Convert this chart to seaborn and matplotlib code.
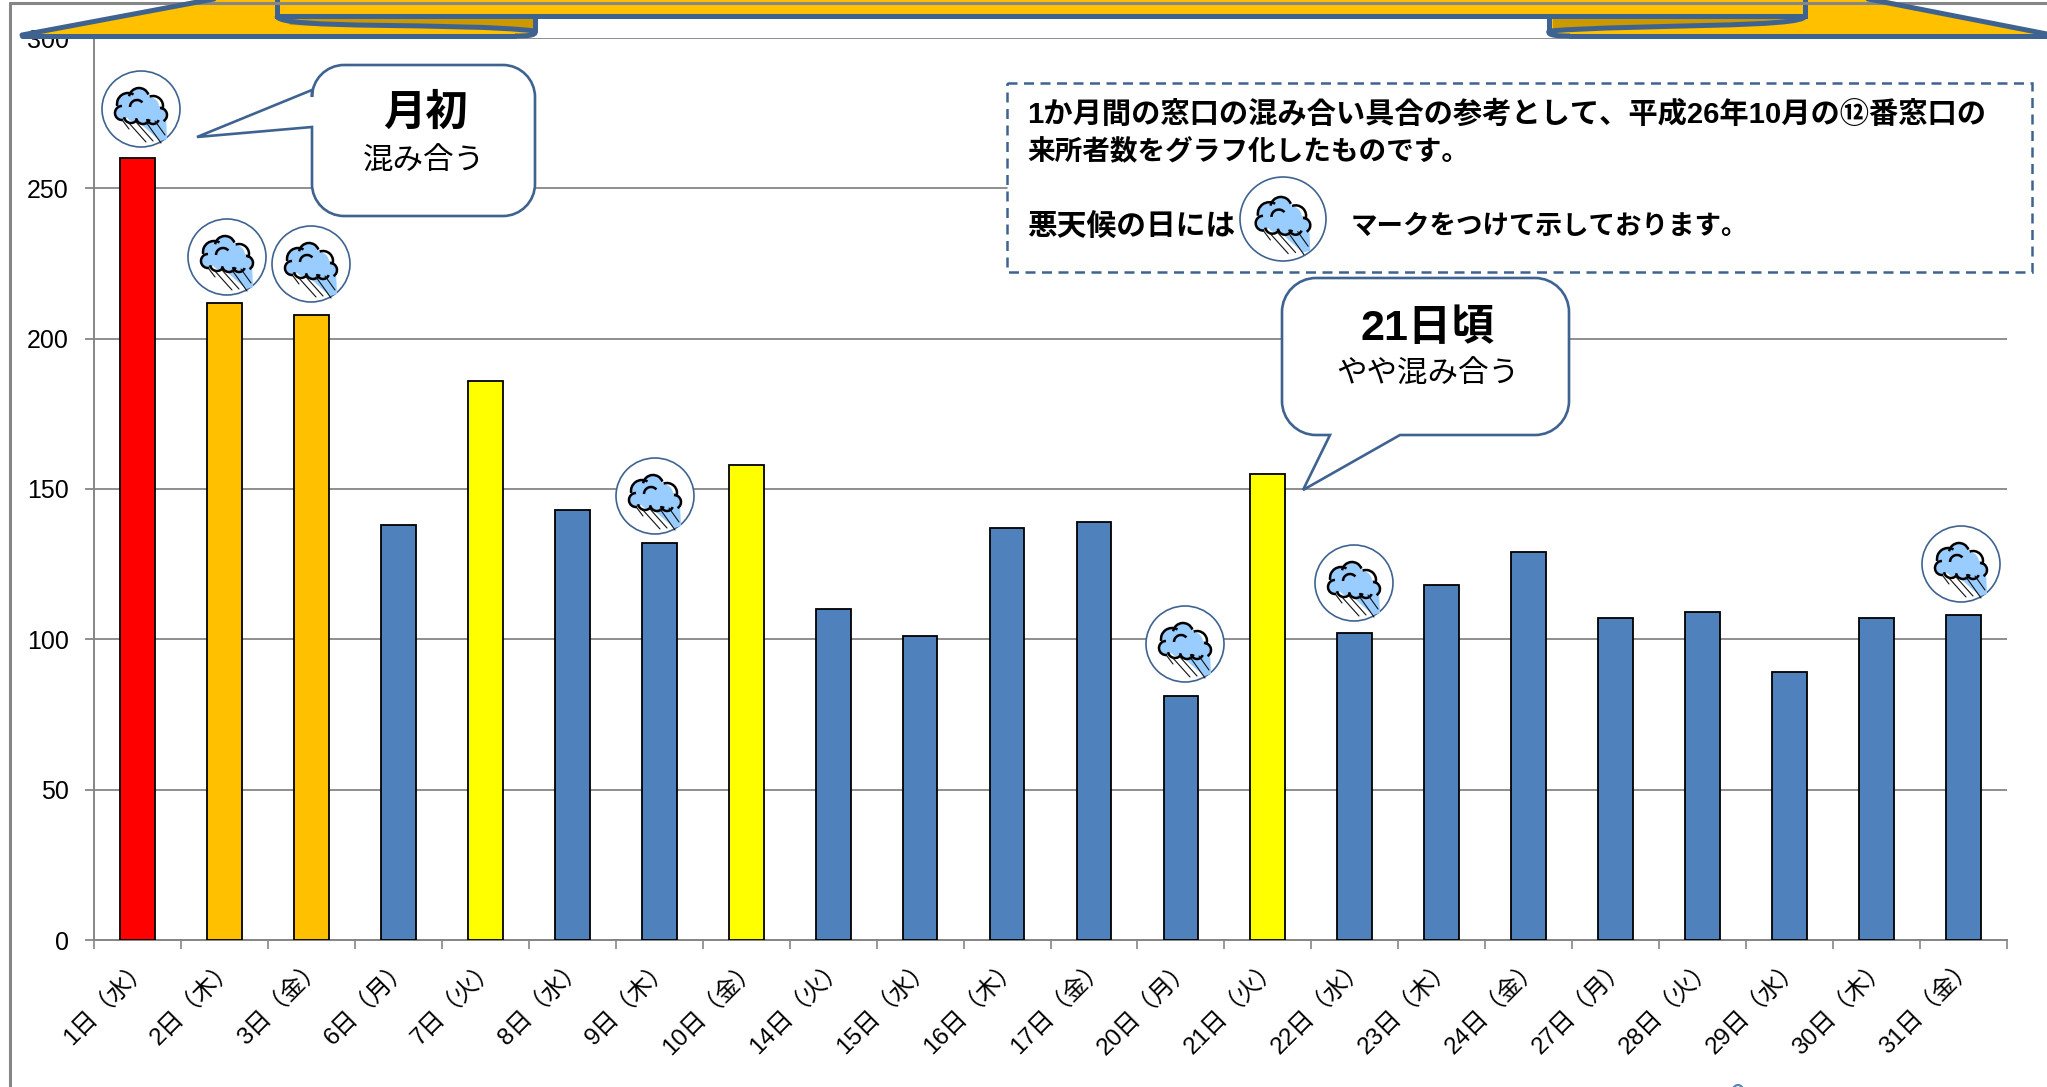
import matplotlib
matplotlib.use("Agg")
import matplotlib.pyplot as plt
import seaborn as sns
import pandas as pd
from matplotlib.patches import Ellipse, Circle, Arc, Polygon, PathPatch, Rectangle
from matplotlib.path import Path
from matplotlib.ticker import FixedLocator

days = ["1日（水）","2日（木）","3日（金）","6日（月）","7日（火）","8日（水）","9日（木）","10日（金）",
        "14日（火）","15日（水）","16日（木）","17日（金）","20日（月）","21日（火）","22日（水）","23日（木）",
        "24日（金）","27日（月）","28日（火）","29日（水）","30日（木）","31日（金）"]
visitors = [260,212,208,138,186,143,132,158,110,101,137,139,81,155,102,118,129,107,109,89,107,108]
levels = ["red","orange","orange","blue","yellow","blue","blue","yellow","blue","blue","blue","blue",
          "blue","yellow","blue","blue","blue","blue","blue","blue","blue","blue"]
palette = {"red":"#FF0000","orange":"#FFC000","blue":"#4F81BD","yellow":"#FFFF00"}
yticks = [0,50,100,150,200,250,300]

W, H = 2047, 1087
LATIN_JP = ["Liberation Sans", "Noto Sans CJK JP", "DejaVu Sans"]
sns.set_theme(style="white")
plt.rcParams["font.family"] = LATIN_JP
GRAY = "#868686"
BLUE = "#3F6391"

fig = plt.figure(figsize=(W/100, H/100), dpi=100, facecolor="white")
ax = fig.add_axes([94/W, 1-940/H, (2007-94)/W, (940-38)/H])
df = pd.DataFrame({"day":days,"visitors":visitors,"level":levels})
sns.barplot(data=df, x="day", y="visitors", hue="level", palette=palette, dodge=False, saturation=1,
            width=0.4, edgecolor="black", linewidth=1.3, legend=False, ax=ax, zorder=3)
ax.set_xlim(-0.5, len(days)-0.5)
ax.set_ylim(0, 300)
ax.set_yticks(yticks)
ax.set_xlabel(""); ax.set_ylabel("")
ax.grid(axis="y", color=GRAY, lw=1.3, zorder=0)
ax.set_axisbelow(True)
for s in ["top","right"]:
    ax.spines[s].set_visible(False)
for s in ["left","bottom"]:
    ax.spines[s].set_color(GRAY); ax.spines[s].set_linewidth(1.4)
ax.xaxis.set_minor_locator(FixedLocator([i-0.5 for i in range(len(days)+1)]))
ax.tick_params(axis="x", which="major", length=0, pad=11)
ax.tick_params(axis="x", which="minor", length=6.3, width=1.2, color=GRAY, bottom=True)
ax.tick_params(axis="y", length=6.3, width=1.3, color=GRAY, labelsize=18, pad=12, left=True)
ax.set_xticks(range(len(days)))
ax.set_xticklabels(days, rotation=45, ha="right", rotation_mode="anchor", fontsize=17.5, color="black")
for lab in ax.get_yticklabels():
    lab.set_color("black")

# overlay in figure pixels for the decorative shapes
ov = fig.add_axes([0,0,1,1], zorder=10)
ov.set_xlim(0, W); ov.set_ylim(H, 0); ov.axis("off"); ov.patch.set_alpha(0)

# outer frame
ov.plot([10,10],[1087,3], color=GRAY, lw=2.2)
ov.plot([10,2047],[3,3], color=GRAY, lw=2.2)

# ribbon banner
RW = 3.6
ov.add_patch(Polygon([(22,35),(214,-4),(535,-4),(535,36)], closed=True, fc="#FFC000", ec="none"))
ov.add_patch(Polygon([(2047,34),(1868,-4),(1549,-4),(1549,36)], closed=True, fc="#FFC000", ec="none"))
ov.add_patch(Polygon([(285,17),(533,17),(533,28),(320,26),(290,25)], fc="#CC9A00", ec="none"))
ov.add_patch(Polygon([(1553,17),(1800,17),(1795,23),(1600,26),(1553,29)], fc="#CC9A00", ec="none"))
ov.add_patch(Rectangle((277,-6),1528,22, fc="#FFC000", ec=BLUE, lw=RW))
ov.plot([22,214],[35,-1], color=BLUE, lw=RW, solid_capstyle="round")
ov.plot([22,515],[36,36], color=BLUE, lw=RW, solid_capstyle="round")
ov.plot([2047,1868],[34,-1], color=BLUE, lw=RW, solid_capstyle="round")
ov.plot([1570,2047],[36,36], color=BLUE, lw=RW, solid_capstyle="round")
def curve(pts):
    codes = [Path.MOVETO]+[Path.CURVE4]*(len(pts)-1)
    ov.add_patch(PathPatch(Path(pts,codes), fc="none", ec=BLUE, lw=RW))
curve([(277,16),(277,30),(460,22),(535,31)])
curve([(535,31),(537,36),(525,36),(515,36)])
ov.plot([535,535],[16,31], color=BLUE, lw=RW)
curve([(1805,16),(1805,28),(1640,24),(1549,31)])
curve([(1549,31),(1547,36),(1560,36),(1570,36)])
ov.plot([1549,1549],[16,31], color=BLUE, lw=RW)

# weather icon
def icon(cx, cy, rx=39, ry=38, s=1.0):
    z = 11
    ov.add_patch(Ellipse((cx,cy), 2*rx, 2*ry, fc="white", ec=BLUE, lw=1.2, zorder=z))
    ov.add_patch(Polygon([(cx-8*s,cy+8*s),(cx+25*s,cy+8*s),(cx+26*s,cy+30*s),(cx+19*s,cy+32*s)],
                         fc="#99CCFF", ec="none", zorder=z))
    lobes = [(-13,-5,11),(-2,-11,10),(8,-2,10),(18,5,8),(-19,4,7),(-6,4,9),(7,6,8)]
    for dx,dy,r in lobes:
        ov.add_patch(Circle((cx+dx*s,cy+dy*s), r*s, fc="#99CCFF", ec="none", zorder=z))
    arcs = [(-13,-5,11,170,300),(-2,-11,10,190,340),(12,-3,10,250,20),(19,6,7,270,60),
            (-19,4,7,80,270),(-10,7,7,30,170),(2,8,7,20,170),(12,9,6,20,170),(-4,-2,7,180,320)]
    for dx,dy,r,a,b in arcs:
        ov.add_patch(Arc((cx+dx*s,cy+dy*s), 2*r*s, 2*r*s, theta1=a, theta2=b, ec="black", lw=1.8, zorder=z+1))
    for dx0,dy0,dx1,dy1 in [(-13,13,5,33),(-5,13,12,32),(5,13,20,34),(14,12,24,26),(-18,12,-12,20)]:
        ov.plot([cx+dx0*s,cx+dx1*s],[cy+dy0*s,cy+dy1*s], color="#111111", lw=0.8, zorder=z+1)

for cx,cy in [(141,109),(227,257),(311,264),(655,496),(1185,644),(1354,583),(1961,564)]:
    icon(cx,cy)

# callouts
def callout(x0,y0,x1,y1,r,pointer,side):
    k = 0.55*r
    (px0,py0),(tx_,ty_),(px1,py1) = pointer
    if side == "left":
        v = [(x0+r,y0),(x1-r,y0),(x1-r+k,y0),(x1,y0+r-k),(x1,y0+r),(x1,y1-r),(x1,y1-r+k),(x1-r+k,y1),(x1-r,y1),
             (x0+r,y1),(x0+r-k,y1),(x0,y1-r+k),(x0,y1-r),(px1,py1),(tx_,ty_),(px0,py0),(x0,y0+r),(x0,y0+r-k),(x0+r-k,y0),(x0+r,y0)]
        c = [1,2,4,4,4,2,4,4,4,2,4,4,4,2,2,2,2,4,4,4]
    else:
        v = [(x0+r,y0),(x1-r,y0),(x1-r+k,y0),(x1,y0+r-k),(x1,y0+r),(x1,y1-r),(x1,y1-r+k),(x1-r+k,y1),(x1-r,y1),
             (px1,py1),(tx_,ty_),(px0,py0),(x0+r,y1),(x0+r-k,y1),(x0,y1-r+k),(x0,y1-r),(x0,y0+r),(x0,y0+r-k),(x0+r-k,y0),(x0+r,y0)]
        c = [1,2,4,4,4,2,4,4,4,2,2,2,2,4,4,4,2,4,4,4]
    ov.add_patch(PathPatch(Path(v,c), fc="white", ec=BLUE, lw=1.9, zorder=12, joinstyle="miter"))

callout(312,65,535,216,32,[(312,90),(197,137),(312,127)],"left")
callout(1282,278,1569,435,34,[(1330,435),(1303,490),(1400,435)],"bottom")
def tx(x,y,s,size,weight="normal",ha="center"):
    ov.text(x,y,s,fontsize=size,fontweight=weight,ha=ha,va="center",color="black",zorder=14,family=LATIN_JP)
tx(425,114,"月初",30.5,"bold")
tx(424,162,"混み合う",22)
tx(1428,329,"21日頃",31,"bold")
tx(1428,375,"やや混み合う",22)

# info box
ov.add_patch(Rectangle((1007,83),1025,189, fc="white", ec=BLUE, lw=1.8, ls=(0,(4,2.6)), zorder=11))
tx(1027,115,"1か月間の窓口の混み合い具合の参考として、平成26年10月の⑫番窓口の",21.1,"bold","left")
tx(1027,153,"来所者数をグラフ化したものです。",19.9,"bold","left")
tx(1027,227,"悪天候の日には",21.4,"bold","left")
tx(1351,227,"マークをつけて示しております。",19.1,"bold","left")
icon(1283,219,rx=43,ry=42,s=1.05)

# clipped circle at bottom edge
ov.add_patch(Ellipse((1738,1100),16,30, fc="none", ec="#4F81BD", lw=1.5, zorder=11))

fig.savefig("out.png", dpi=100, facecolor="white")
